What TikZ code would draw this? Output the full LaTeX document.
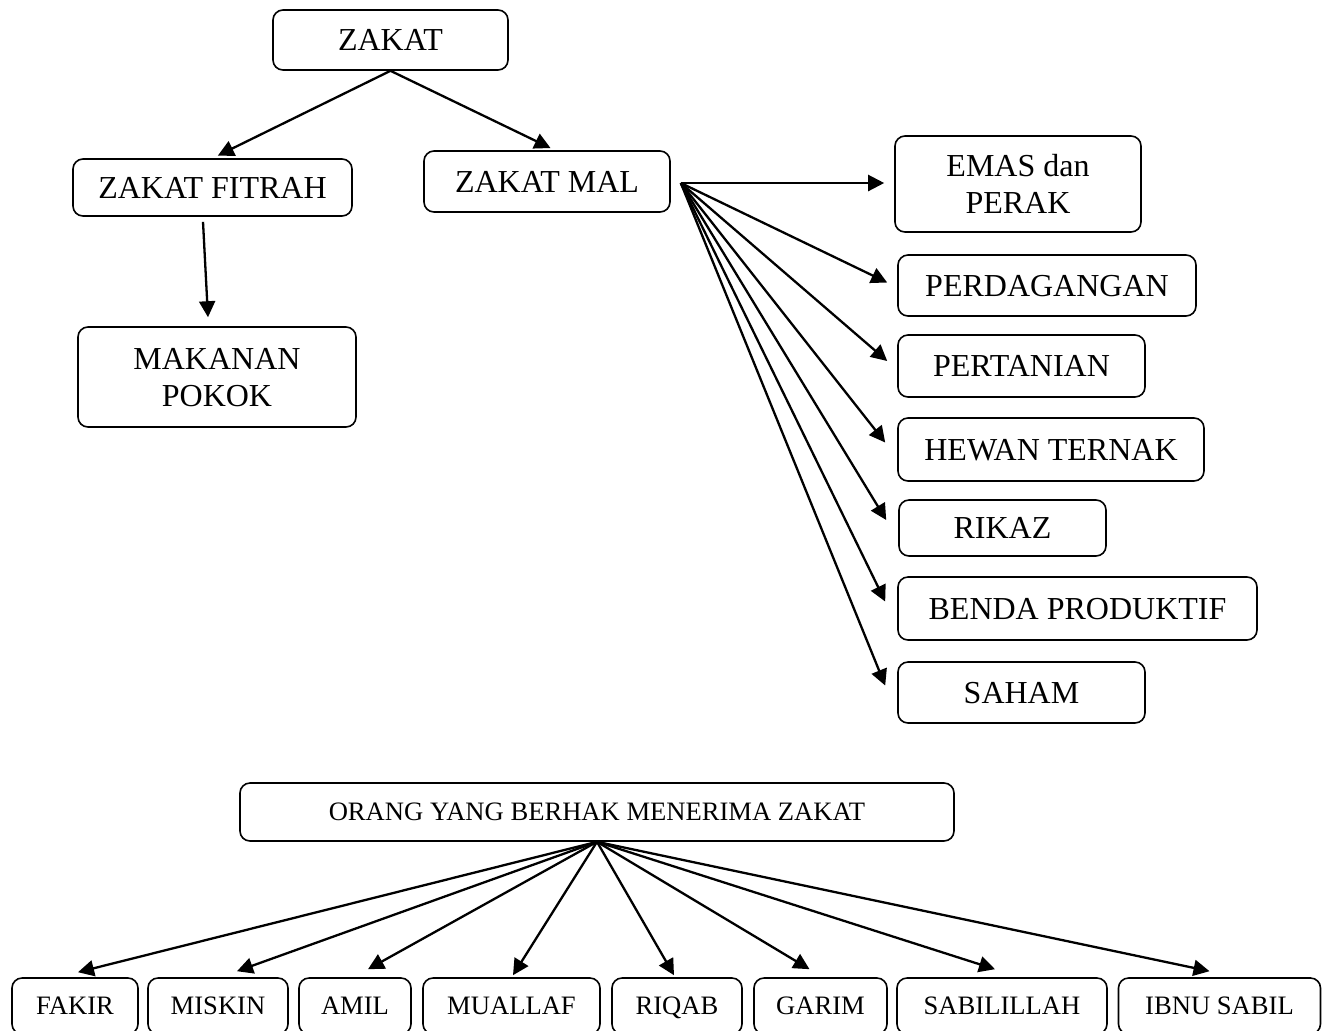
\documentclass[tikz,border=0pt]{standalone}
\usepackage{fontspec}
\setmainfont{Liberation Serif}
\usetikzlibrary{arrows.meta,calc}

\begin{document}
\begin{tikzpicture}[x=0.5pt,y=-0.5pt,
					box/.style={draw,rounded corners=5pt,line width=0.8pt,
					            align=center,inner sep=0pt,text depth=0pt,
					            font=\fontsize{16}{18.5}\selectfont},
					small box/.style={box,minimum height=28pt,
					            font=\fontsize{13.3}{16}\selectfont},
					arr/.style={-{Triangle[length=8pt,width=8pt]},line width=1.15pt}]

  \clip (0,0) rectangle (1324,1030);

  % jenis zakat
  \node[box,minimum width=117.5pt,minimum height=30pt] (zakat) at (390.5,40) {ZAKAT};
  \node[box,minimum width=139.5pt,minimum height=28.5pt] (fitrah) at (212.5,187.5) {ZAKAT FITRAH};
  \node[box,minimum width=123pt,minimum height=30.5pt] (mal) at (547,181.5) {ZAKAT MAL};
  \node[box,minimum width=139pt,minimum height=50pt] (makanan) at (217,377) {MAKANAN\\POKOK};

  % harta zakat mal
  \node[box,minimum width=123pt,minimum height=48pt] (emas) at (1018,184) {EMAS dan\\PERAK};
  \node[box,minimum width=149pt,minimum height=30.5pt] (perdagangan) at (1047,285.5) {PERDAGANGAN};
  \node[box,minimum width=123.5pt,minimum height=31pt] (pertanian) at (1021.5,366) {PERTANIAN};
  \node[box,minimum width=153pt,minimum height=31.5pt] (hewan) at (1051,449.5) {HEWAN TERNAK};
  \node[box,minimum width=103.5pt,minimum height=28pt] (rikaz) at (1002.5,528) {RIKAZ};
  \node[box,minimum width=179.5pt,minimum height=31.5pt] (benda) at (1077.5,608.5) {BENDA PRODUKTIF};
  \node[box,minimum width=123.5pt,minimum height=30.5pt] (saham) at (1021.5,692.5) {SAHAM};

  % penerima zakat
  \node[small box,minimum width=357pt,minimum height=29pt] (orang) at (597,812) {ORANG YANG BERHAK MENERIMA ZAKAT};
  \node[small box,minimum width=63pt] (fakir) at (75,1006) {FAKIR};
  \node[small box,minimum width=70pt] (miskin) at (218,1006) {MISKIN};
  \node[small box,minimum width=56pt] (amil) at (355,1006) {AMIL};
  \node[small box,minimum width=88.5pt] (muallaf) at (511.5,1006) {MUALLAF};
  \node[small box,minimum width=65pt] (riqab) at (677,1006) {RIQAB};
  \node[small box,minimum width=66.5pt] (garim) at (820.5,1006) {GARIM};
  \node[small box,minimum width=105pt] (sabilillah) at (1002,1006) {SABILILLAH};
  \node[small box,minimum width=101pt] (ibnu) at (1219.5,1006) {IBNU SABIL};

  \coordinate (malout) at ($(mal.east)+(10,1.5)$);

  \path[arr]
    (zakat.south) edge[shorten >=3pt] (fitrah.north)
                  edge[shorten >=2.5pt] ($(mal.north)+(8,0)$)
    ($(fitrah.south)+(-9.5,5)$) edge ($(makanan.north)+(-9,-9)$);

  \path[arr]
    (malout) edge ($(emas.west)+(-10,-1)$)
             edge ($(perdagangan.west)+(-10,-3)$)
             edge ($(pertanian.west)+(-10,-5)$)
             edge ($(hewan.west)+(-12,-7)$)
             edge ($(rikaz.west)+(-12,-8)$)
             edge ($(benda.west)+(-12,-7)$)
             edge ($(saham.west)+(-12,-7)$);

  \path[arr]
    (orang.south) edge ($(fakir.north)+(3,-5)$)
                  edge ($(miskin.north)+(19,-6)$)
                  edge ($(amil.north)+(13,-8)$)
                  edge ($(muallaf.north)+(1.5,-2)$)
                  edge ($(riqab.north)+(-3,-2)$)
                  edge ($(garim.north)+(-11,-8)$)
                  edge ($(sabilillah.north)+(-7,-8)$)
                  edge ($(ibnu.north)+(-10,-6)$);
\end{tikzpicture}
\end{document}
